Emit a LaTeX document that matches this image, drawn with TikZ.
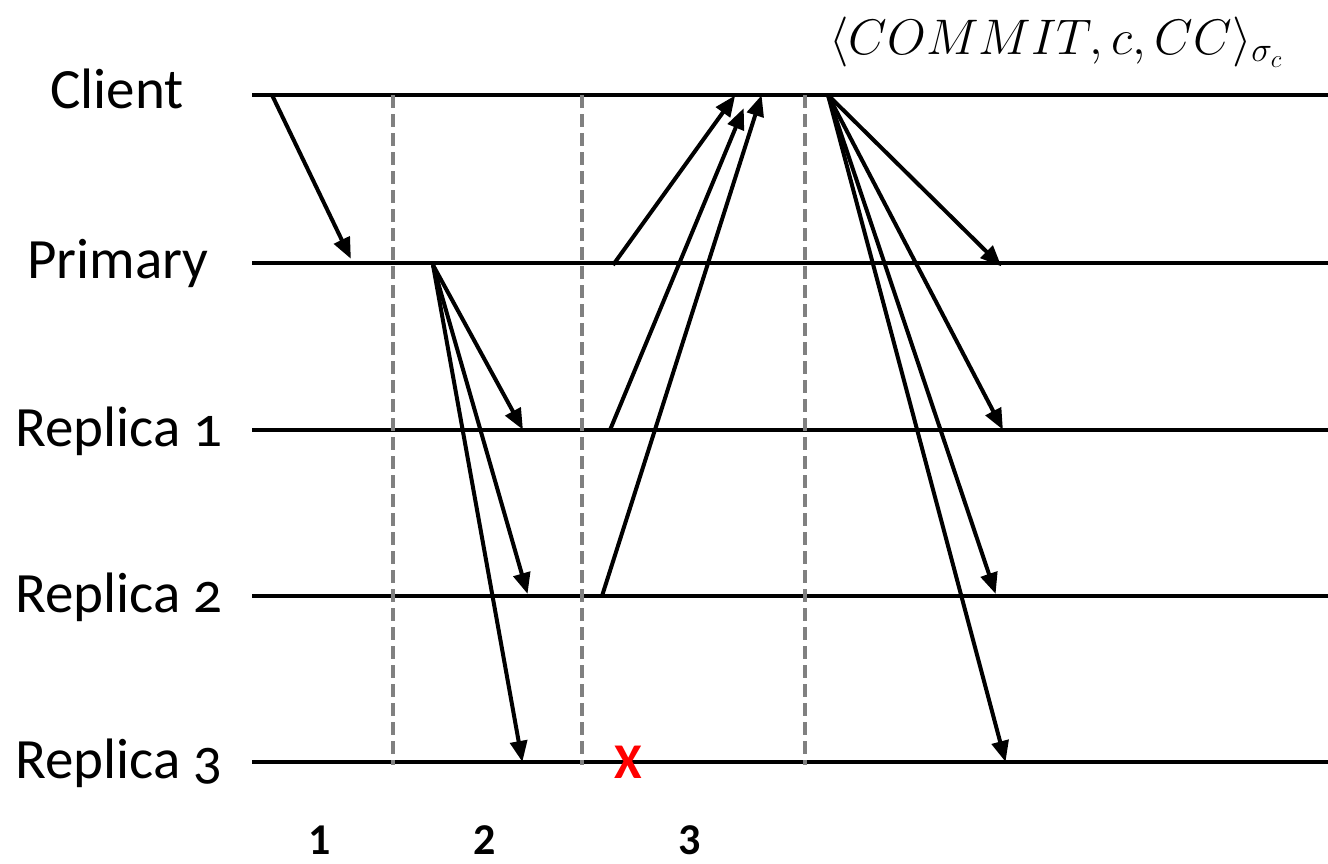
\documentclass[tikz,border=0pt]{standalone}
\usepackage{fix-cm}
\usepackage[no-math]{fontspec}
\setmainfont{Carlito}[Numbers=OldStyle]
\newfontfamily\lblnum{Carlito}
\usetikzlibrary{arrows.meta}
\begin{document}
\begin{tikzpicture}[x=1pt,y=-1pt,
  timeline/.style={line width=4.5pt,black},
  phase/.style={line width=3.8pt,color={rgb,255:red,128;green,128;blue,128},dash pattern=on 13pt off 6pt},
  msg/.style={line width=4pt,-{Triangle[length=21pt,width=17pt]},shorten >=-2pt},
  role/.style={font=\fontsize{57}{62}\selectfont,anchor=base west,inner sep=0pt},
  stage/.style={font=\lblnum\bfseries\fontsize{44}{48}\selectfont,anchor=base,inner sep=0pt}
]
\useasboundingbox (0,0) rectangle (1328,863);
% role labels
\node[role] (lc) at (50,108) {Client};
\node[role] (lp) at (27,278) {Primary};
\node[role] (l1) at (15,446) {Replica 1};
\node[role] (l2) at (15,612) {Replica 2};
\node[role] (l3) at (15,778) {Replica 3};
% timeline endpoints
\foreach \n/\y in {c/95,p/263,r1/430,r2/596,r3/762}{
  \coordinate (\n s) at (252,\y);
  \coordinate (\n e) at (1328,\y);
  \draw[timeline] (\n s) -- (\n e);
}
% phase separators
\foreach \n/\x in {a/393,b/582,d/805}{
  \coordinate (\n t) at (\x,95);
  \coordinate (\n b) at (\x,765);
  \draw[phase] (\n t) -- (\n b);
}
% message 1: client -> primary
\coordinate (m1s) at (272,95);
\coordinate (m1e) at (350,257);
\draw[msg] (m1s) -- (m1e);
% message 2: primary -> replicas
\coordinate (m2s) at (433,265);
\coordinate (m2a) at (522,428);
\coordinate (m2b) at (527,592);
\coordinate (m2c) at (522,760);
\draw[msg] (m2s) -- (m2a);
\draw[msg] (m2s) -- (m2b);
\draw[msg] (m2s) -- (m2c);
% message 3: replies to client
\coordinate (m3p) at (613,265);
\coordinate (m3a) at (610,430);
\coordinate (m3b) at (602,596);
\coordinate (m3pe) at (734,97);
\coordinate (m3ae) at (743,110);
\coordinate (m3be) at (761,97);
\draw[msg] (m3p) -- (m3pe);
\draw[msg] (m3a) -- (m3ae);
\draw[msg] (m3b) -- (m3be);
% message 4: commit
\coordinate (m4s) at (828,95);
\coordinate (m4p) at (1000,265);
\coordinate (m4a) at (1002,428);
\coordinate (m4b) at (995,592);
\coordinate (m4c) at (1005,760);
\draw[msg] (m4s) -- (m4p);
\draw[msg] (m4s) -- (m4a);
\draw[msg] (m4s) -- (m4b);
\draw[msg] (m4s) -- (m4c);
% crash mark
\node[text=red,font=\lblnum\bfseries\fontsize{50}{56}\selectfont] (x) at (628,762) {X};
% commit message label
\node[font=\fontsize{50}{60}\selectfont] (cm) at (1056,42) {$\langle COMMIT, c, CC\rangle_{\sigma_c}$};
% stage numbers
\node[stage] (s1) at (320,854) {1};
\node[stage] (s2) at (485,854) {2};
\node[stage] (s3) at (690,854) {3};
\end{tikzpicture}
\end{document}
